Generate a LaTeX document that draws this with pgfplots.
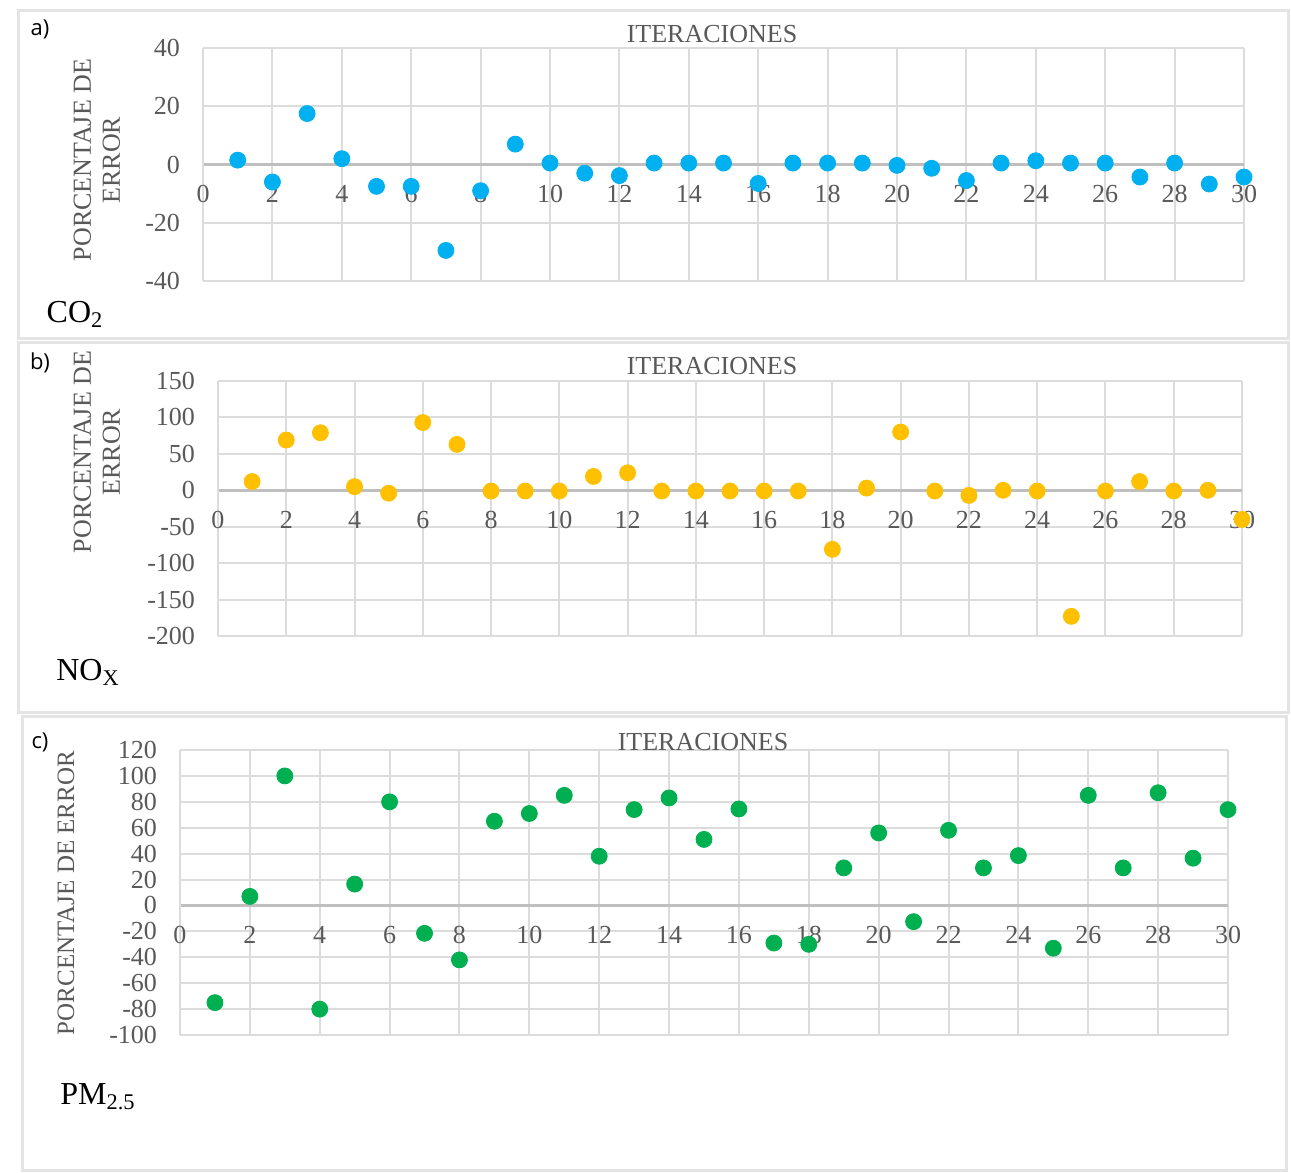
\documentclass[border=0pt]{standalone}
\usepackage{fontspec}
\setmainfont{Liberation Serif}
\newfontfamily\lblfont{Open Sans}
\usepackage{pgfplots}
\pgfplotsset{compat=1.18}
\definecolor{cblue}{HTML}{00B0F0}
\definecolor{cgold}{HTML}{FFC000}
\definecolor{cgreen}{HTML}{00B050}
\definecolor{txtc}{HTML}{595959}
\definecolor{gridc}{HTML}{DCDCDC}
\definecolor{zeroc}{HTML}{BFBFBF}
\definecolor{framec}{HTML}{E4E4E4}
\pgfplotsset{panel/.style={
  scale only axis, anchor=south west,
  axis x line=middle, axis y line=left,
  xmin=0, xmax=30, xtick={0,2,...,30},
  grid=major, grid style={draw=gridc, line width=1pt},
  x axis line style={draw=zeroc, line width=1.3pt, -},
  y axis line style={draw=gridc, line width=1pt, -},
  major tick length=0pt,
  tick label style={font=\fontsize{13}{15}\selectfont, text=txtc},
  /pgf/number format/assume math mode=true,
  xticklabel style={yshift=-7pt},
  yticklabel style={xshift=-8pt},
  clip=false,
  hide obscured x ticks=false, hide obscured y ticks=false,
  every axis plot/.append style={only marks, mark=*, mark size=4pt},
}}
\begin{document}
\begin{tikzpicture}
\path[fill=white] (0pt,0pt) rectangle (645.5pt,-586.5pt);
% panel frames
\draw[framec, line width=1.5pt] (9pt,-5pt) rectangle (644pt,-169pt);
\draw[framec, line width=1.5pt] (9pt,-171pt) rectangle (644pt,-356pt);
\draw[framec, line width=1.5pt] (11pt,-358pt) rectangle (643pt,-585pt);

% ---------- a) CO2
\begin{axis}[panel, at={(101.5pt,-140.5pt)}, width=520.5pt, height=116.5pt,
  ymin=-40, ymax=40, ytick={-40,-20,...,40}]
\addplot[cblue] coordinates {
(1,1.5) (2,-6) (3,17.5) (4,2) (5,-7.5) (6,-7.5) (7,-29.5) (8,-9) (9,7) (10,0.5)
(11,-3) (12,-3.8) (13,0.5) (14,0.5) (15,0.5) (16,-6.5) (17,0.5) (18,0.5) (19,0.5) (20,-0.3)
(21,-1.3) (22,-5.5) (23,0.5) (24,1.3) (25,0.5) (26,0.5) (27,-4.3) (28,0.5) (29,-6.7) (30,-4.3)};
\end{axis}

% ---------- b) NOx
\begin{axis}[panel, at={(109pt,-318pt)}, width=512pt, height=127.5pt,
  ymin=-200, ymax=150, ytick={-200,-150,...,150}]
\addplot[cgold] coordinates {
(1,12) (2,69) (3,79) (4,5) (5,-4) (6,93) (7,63) (8,-1) (9,-1) (10,-1)
(11,19) (12,24) (13,-1) (14,-1) (15,-1) (16,-1) (17,-1) (18,-81) (19,3) (20,80)
(21,-1) (22,-7) (23,0) (24,-1) (25,-173) (26,-1) (27,12) (28,-1) (29,0) (30,-40)};
\end{axis}

% ---------- c) PM2.5
\begin{axis}[panel, at={(90pt,-517.5pt)}, width=524pt, height=142.5pt,
  ymin=-100, ymax=120, ytick={-100,-80,...,120}]
\addplot[cgreen] coordinates {
(1,-75) (2,7) (3,100) (4,-80) (5,16.5) (6,80) (7,-21.5) (8,-42) (9,65) (10,71)
(11,85) (12,38) (13,74) (14,83) (15,51) (16,74.5) (17,-29) (18,-30) (19,29) (20,56)
(21,-12.5) (22,58) (23,29) (24,38.5) (25,-33) (26,85) (27,29) (28,87) (29,36.5) (30,74)};
\end{axis}

% panel letters
\node[font=\lblfont\fontsize{11}{13}\selectfont] at (20pt,-14.5pt) {a)};
\node[font=\lblfont\fontsize{11}{13}\selectfont] at (20pt,-181.5pt) {b)};
\node[font=\lblfont\fontsize{11}{13}\selectfont] at (20pt,-371pt) {c)};
% axis titles
\node[font=\fontsize{13}{15}\selectfont, text=txtc] at (356pt,-17pt) {ITERACIONES};
\node[font=\fontsize{13}{15}\selectfont, text=txtc] at (356pt,-183pt) {ITERACIONES};
\node[font=\fontsize{13}{15}\selectfont, text=txtc] at (351.5pt,-371pt) {ITERACIONES};
% y labels
\node[rotate=90, align=center, font=\fontsize{13}{14.5}\selectfont, text=txtc] at (48.5pt,-80pt) {PORCENTAJE DE\\ERROR};
\node[rotate=90, align=center, font=\fontsize{13}{14.5}\selectfont, text=txtc] at (48.5pt,-226pt) {PORCENTAJE DE\\ERROR};
\node[rotate=90, font=\fontsize{12.5}{14}\selectfont, text=txtc] at (33pt,-446.5pt) {PORCENTAJE DE ERROR};
% species
\node[font=\fontsize{16}{18}\selectfont] at (37.5pt,-157pt) {CO\textsubscript{2}};
\node[font=\fontsize{16}{18}\selectfont] at (44pt,-336pt) {NO\textsubscript{X}};
\node[font=\fontsize{16}{18}\selectfont] at (49pt,-548.5pt) {PM\textsubscript{2.5}};
\end{tikzpicture}
\end{document}
